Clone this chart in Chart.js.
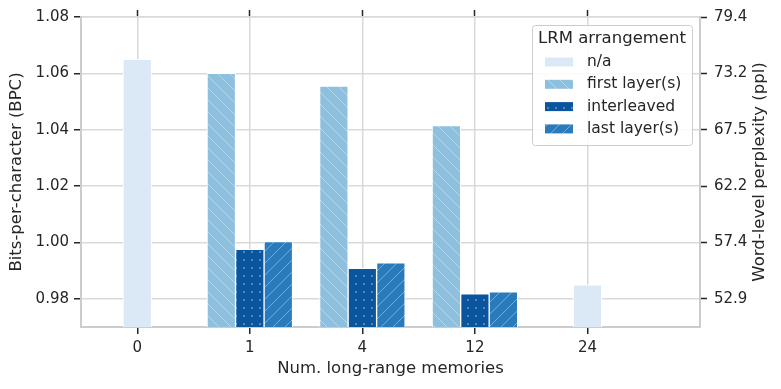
<!DOCTYPE html>
<html>
<head>
<meta charset="utf-8">
<script src="https://cdn.jsdelivr.net/npm/chart.js@4.4.1/dist/chart.umd.min.js"></script>
<style>
  body { margin: 0; background: #fff; }
  #wrap { width: 781px; height: 389px; }
</style>
</head>
<body>
<div id="wrap"><canvas id="lrm" width="781" height="389"></canvas></div>
<script>
// BPC by number of long-range memories

var memories = ['0', '1', '4', '12', '24'];
var naBpc = [1.065, null, null, null, 0.985];
var firstBpc = [null, 1.060, 1.0555, 1.0415, null];
var interleavedBpc = [null, 0.9976, 0.9908, 0.9818, null];
var lastBpc = [null, 1.0003, 0.9928, 0.9825, null];
var bpcTicks = [0.98, 1.00, 1.02, 1.04, 1.06, 1.08];
var pplTicks = ['52.9', '57.4', '62.2', '67.5', '73.2', '79.4'];

Chart.defaults.font.family = 'DejaVu Sans';
Chart.defaults.color = '#262626';

var canvas = document.getElementById('lrm');
var ctx = canvas.getContext('2d');

function pattern(bg, kind) {
  var c = document.createElement('canvas');
  var s = kind === 'dots' ? 8 : 12;
  c.width = s;
  c.height = s;
  var g = c.getContext('2d');
  g.fillStyle = bg;
  g.fillRect(0, 0, s, s);
  g.strokeStyle = 'rgba(255,255,255,0.35)';
  g.fillStyle = 'rgba(255,255,255,0.4)';
  g.lineWidth = 1;
  if (kind === 'dots') {
    g.beginPath();
    g.arc(s / 2, s / 2, 1, 0, Math.PI * 2);
    g.fill();
  } else {
    for (var k = -s; k <= s; k += s) {
      g.beginPath();
      if (kind === 'back') { g.moveTo(k, 0); g.lineTo(k + s, s); }
      else { g.moveTo(k, s); g.lineTo(k + s, 0); }
      g.stroke();
    }
  }
  return ctx.createPattern(c, 'repeat');
}

function points(values) {
  return values.map(function (v, i) { return {x: i, y: v}; });
}

function dataset(label, values, fill) {
  return {
    label: label,
    data: points(values),
    backgroundColor: fill,
    borderColor: '#ffffff',
    borderWidth: 1,
    barThickness: 28.5,
    skipNull: true
  };
}

var lrmData = {
  datasets: [
    dataset('n/a', naBpc, '#dbe9f6'),
    dataset('first layer(s)', firstBpc, pattern('#8cc0de', 'back')),
    dataset('interleaved', interleavedBpc, pattern('#0b559f', 'dots')),
    dataset('last layer(s)', lastBpc, pattern('#2b7bba', 'fwd'))
  ]
};

function keepCategories(scale) {
  scale.ticks = memories.map(function (m, i) { return {value: i}; });
}

function bpcTickList(scale) {
  scale.ticks = bpcTicks.map(function (v) { return {value: v}; });
}

// legend box and right-hand title
var extras = {
  id: 'extras',
  afterDraw: function (chart) {
    var c = chart.ctx;
    var area = chart.chartArea;
    c.save();

    c.fillStyle = '#262626';
    c.font = '16.5px "DejaVu Sans"';
    c.textAlign = 'center';
    c.textBaseline = 'middle';
    c.translate(760, (area.top + area.bottom) / 2);
    c.rotate(-Math.PI / 2);
    c.fillText('Word-level perplexity (ppl)', 0, 0);
    c.setTransform(1, 0, 0, 1, 0, 0);

    c.fillStyle = 'rgba(255,255,255,0.85)';
    c.strokeStyle = '#cccccc';
    c.lineWidth = 1;
    c.beginPath();
    c.roundRect(532.5, 25.5, 160, 120, 3);
    c.fill();
    c.stroke();

    c.fillStyle = '#262626';
    c.font = '16.5px "DejaVu Sans"';
    c.textAlign = 'center';
    c.fillText('LRM arrangement', 612, 39);

    c.font = '15.5px "DejaVu Sans"';
    c.textAlign = 'left';
    chart.data.datasets.forEach(function (ds, i) {
      var y = 62 + i * 22.3;
      c.fillStyle = ds.backgroundColor;
      c.fillRect(545, y - 4.5, 28, 9);
      c.fillStyle = '#262626';
      c.fillText(ds.label, 587, y);
    });
    c.restore();
  }
};

new Chart(ctx, {
  type: 'bar',
  data: lrmData,
  plugins: [extras],
  options: {
    responsive: false,
    animation: false,
    layout: {padding: 0},
    plugins: {
      legend: {display: false},
      tooltip: {enabled: false}
    },
    scales: {
      x: {
        type: 'linear',
        position: 'bottom',
        offset: false,
        min: -0.5,
        max: 5,
        afterBuildTicks: keepCategories,
        afterFit: function (s) { s.height = 62; },
        ticks: {
          font: {size: 15},
          padding: 5,
          maxRotation: 0,
          callback: function (v) { return memories[v]; }
        },
        grid: {offset: false, color: '#d9d9d9', lineWidth: 1.5, tickColor: '#262626', tickLength: 7, tickWidth: 1.5},
        border: {color: '#cccccc', width: 2},
        title: {display: true, text: 'Num. long-range memories', font: {size: 16.5}, padding: {top: 0, bottom: 10}}
      },
      x2: {
        type: 'linear',
        position: 'top',
        offset: false,
        min: -0.5,
        max: 5,
        afterBuildTicks: keepCategories,
        afterFit: function (s) { s.height = 17; },
        ticks: {display: false},
        grid: {offset: false, drawOnChartArea: false, tickColor: '#262626', tickLength: 7, tickWidth: 1.5},
        border: {color: '#d9d9d9', width: 1.5}
      },
      y: {
        position: 'left',
        min: 0.97,
        max: 1.08,
        afterBuildTicks: bpcTickList,
        afterFit: function (s) { s.width = 81; },
        ticks: {
          font: {size: 15},
          padding: 5,
          callback: function (v) { return v.toFixed(2); }
        },
        grid: {color: '#d9d9d9', lineWidth: 1.5, tickColor: '#262626', tickLength: 7, tickWidth: 1.5},
        border: {color: '#cccccc', width: 2},
        title: {display: true, text: 'Bits-per-character (BPC)', font: {size: 16.5}, padding: {top: 7, bottom: 0}}
      },
      y2: {
        position: 'right',
        min: 0.97,
        max: 1.08,
        afterBuildTicks: bpcTickList,
        afterFit: function (s) { s.width = 81; },
        ticks: {
          font: {size: 15},
          padding: 7,
          callback: function (v, i) { return pplTicks[i]; }
        },
        grid: {drawOnChartArea: false, tickColor: '#262626', tickLength: 7, tickWidth: 1.5},
        border: {color: '#cccccc', width: 2}
      }
    }
  }
});
</script>
</body>
</html>
